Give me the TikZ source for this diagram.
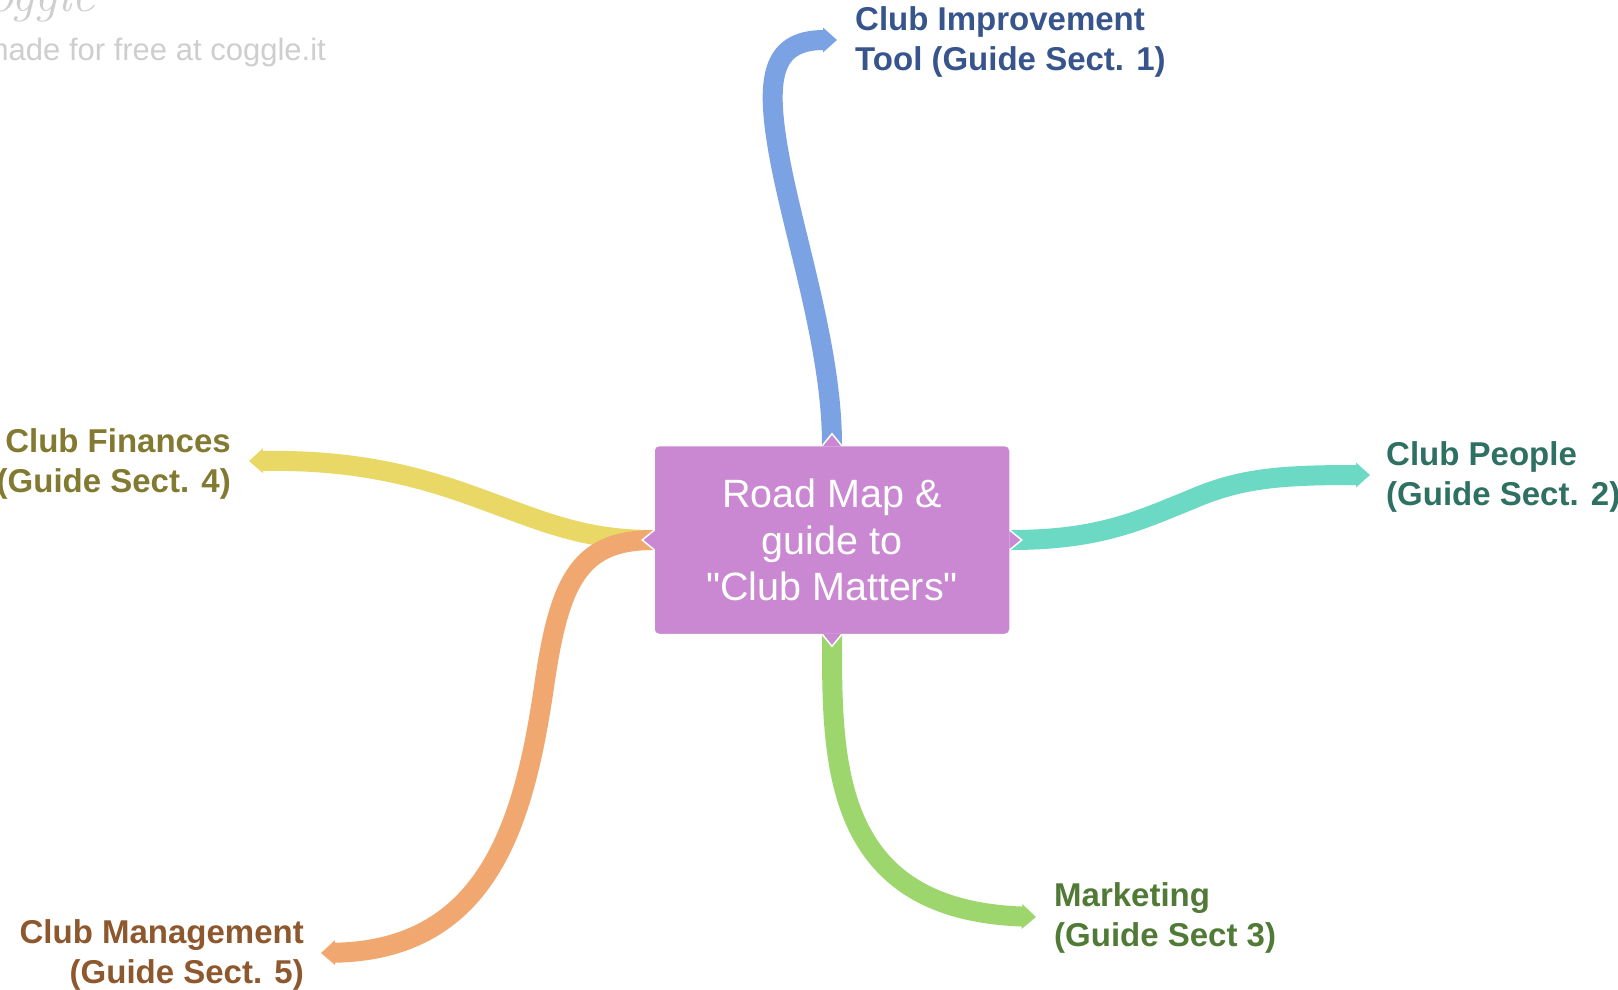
\documentclass[tikz,border=0pt]{standalone}
\usepackage{fontspec}
\setmainfont{Liberation Sans}[Ligatures=TeXOff]
\newfontfamily\logofont{Latin Modern Roman}
\usetikzlibrary{arrows.meta,calc,backgrounds}
\definecolor{boxc}{RGB}{201,136,209}
\definecolor{blueb}{RGB}{123,163,228}
\definecolor{bluet}{RGB}{55,85,140}
\definecolor{yelb}{RGB}{233,216,102}
\definecolor{yelt}{RGB}{130,122,48}
\definecolor{tealb}{RGB}{107,217,196}
\definecolor{tealt}{RGB}{46,112,98}
\definecolor{greenb}{RGB}{156,214,108}
\definecolor{greent}{RGB}{80,122,54}
\definecolor{orab}{RGB}{240,168,112}
\definecolor{orat}{RGB}{142,88,46}
\definecolor{wmark}{RGB}{206,206,206}
\begin{document}
\begin{tikzpicture}[x=1pt,y=-1pt,
  branch/.style={line width=20pt, -{Triangle[width=24pt,length=14pt]}},
  lbl/.style={inner sep=0pt, font=\fontsize{33}{40}\selectfont\bfseries},
  rootbox/.style={fill=boxc, draw=white, line width=1.5pt, rounded corners=5pt,
    minimum width=356pt, minimum height=189pt, inner sep=0pt, text=white,
    align=center, font=\fontsize{39.5}{46.5}\selectfont},
  notch/.style={fill=boxc},
  notchline/.style={draw=white, line width=1.5pt},
]
\useasboundingbox (0,0) rectangle (1618,990);
\clip (0,0) rectangle (1618,990);

% watermark
\node[inner sep=0pt, anchor=base east, text=wmark, font=\logofont\itshape\fontsize{52}{52}\selectfont] (logo) at (95,12) {coggle};
\node[inner sep=0pt, anchor=east, text=wmark, font=\fontsize{31}{31}\selectfont] (made) at (326,52) {made for free at coggle.it};

% central node
\node[rootbox] (root) at (832,540) {Road Map \&\\guide to\\"Club Matters"};

% labels
\node[lbl, text=bluet, anchor=west, align=left] (l1) at (855,42) {Club Improvement\\Tool (Guide Sect. 1)};
\node[lbl, text=tealt, anchor=west, align=left] (l2) at (1386,477) {Club People\\(Guide Sect. 2)};
\node[lbl, text=greent, anchor=west, align=left] (l3) at (1054,918) {Marketing\\(Guide Sect 3)};
\node[lbl, text=yelt, anchor=east, align=right] (l4) at (231,464) {Club Finances\\(Guide Sect. 4)};
\node[lbl, text=orat, anchor=east, align=right] (l5) at (304,955) {Club Management\\(Guide Sect. 5)};

% branch free ends
\coordinate (t1) at (837,40);
\coordinate (t2) at (1370,475);
\coordinate (t3) at (1036,917);
\coordinate (t4) at (249,461);
\coordinate (t5) at (321,953);

\begin{scope}[on background layer]
\fill[white] (0,0) rectangle (1618,990);
\draw[branch, blueb] (root.north) .. controls (832,350) and (795,240) .. (780,160)
   .. controls (765,80) and (770,40) .. (t1);
\draw[branch, tealb] (root.east) .. controls (1100,540) and (1140,520) .. (1190,500)
   .. controls (1240,478) and (1280,475) .. (t2);
\draw[branch, greenb] (root.south) .. controls (832,760) and (830,910) .. (t3);
\draw[branch, yelb] (root.west) .. controls (580,540) and (540,520) .. (470,495)
   .. controls (400,470) and (340,460) .. (t4);
\draw[branch, orab] (root.west) .. controls (580,540) and (560,580) .. (545,680)
   .. controls (525,820) and (490,950) .. (t5);
\end{scope}

% notches on the central box
\fill[notch] ($(root.north)+(-9,1.5)$) -- ($(root.north)+(0,-11)$) -- ($(root.north)+(9,1.5)$) -- cycle;
\draw[notchline] ($(root.north)+(-9,0)$) -- ($(root.north)+(0,-11)$) -- ($(root.north)+(9,0)$);
\fill[notch] ($(root.south)+(-9,-1.5)$) -- ($(root.south)+(0,11)$) -- ($(root.south)+(9,-1.5)$) -- cycle;
\draw[notchline] ($(root.south)+(-9,0)$) -- ($(root.south)+(0,11)$) -- ($(root.south)+(9,0)$);
\fill[notch] ($(root.west)+(1.5,-9)$) -- ($(root.west)+(-11,0)$) -- ($(root.west)+(1.5,9)$) -- cycle;
\draw[notchline] ($(root.west)+(0,-9)$) -- ($(root.west)+(-11,0)$) -- ($(root.west)+(0,9)$);
\fill[notch] ($(root.east)+(-1.5,-9)$) -- ($(root.east)+(11,0)$) -- ($(root.east)+(-1.5,9)$) -- cycle;
\draw[notchline] ($(root.east)+(0,-9)$) -- ($(root.east)+(11,0)$) -- ($(root.east)+(0,9)$);
\end{tikzpicture}
\end{document}
